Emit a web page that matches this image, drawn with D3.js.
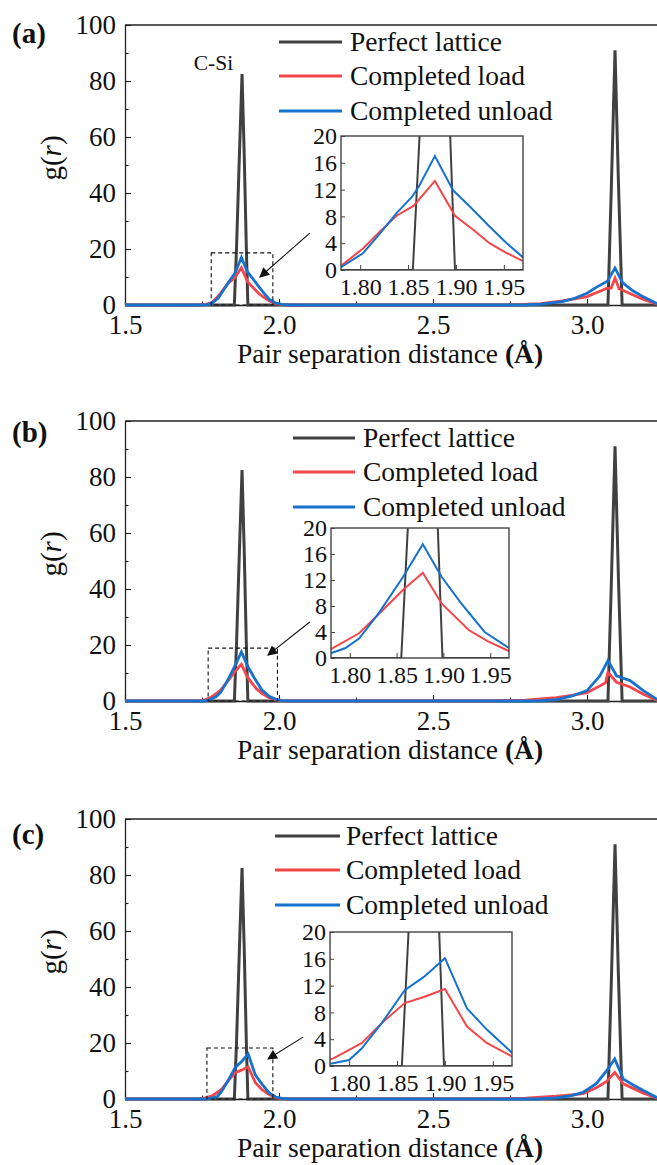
<!DOCTYPE html>
<html>
<head>
<meta charset="utf-8">
<script src="https://cdn.jsdelivr.net/npm/d3@7"></script>
<style>
  html, body { margin: 0; padding: 0; background: #fff; }
  svg { display: block; font-family: "Liberation Serif", "Times New Roman", serif; }
</style>
</head>
<body>
<svg id="chart" width="657" height="1165"></svg>
<script>
// ---- data -------------------------------------------------------------
const panelLabels = ["(a)", "(b)", "(c)"];
const seriesNames = ["Perfect lattice", "Completed load", "Completed unload"];
const seriesColors = ["#404040", "#f2464b", "#1672cc"];

const xTicks = [1.5, 2.0, 2.5, 3.0];
const xMinorTicks = [1.75, 2.25, 2.75, 3.25];
const yTicks = [0, 20, 40, 60, 80, 100];
const yMinorTicks = [10, 30, 50, 70, 90];
const insetXTicks = [1.80, 1.85, 1.90, 1.95];
const insetYTicks = [0, 4, 8, 12, 16, 20];

// perfect lattice g(r) (same reference in every panel)
const latticeCurve = [
  [1.5, 0], [1.850, 0], [1.855, 0], [1.862, 20], [1.871, 52], [1.880, 82.5],
  [1.887, 54], [1.894, 20], [1.899, 0], [1.905, 0],
  [3.060, 0], [3.068, 0], [3.079, 42], [3.091, 91], [3.102, 44], [3.114, 0],
  [3.120, 0], [3.3, 0]
];

// panel (a)
const loadA = [
  [1.5, 0], [1.740, 0], [1.760, 0.2], [1.781, 0.75], [1.803, 3.2], [1.821, 5.8],
  [1.838, 8.1], [1.856, 9.6], [1.878, 13.3], [1.899, 8.1], [1.918, 6.0],
  [1.935, 4.0], [1.952, 2.6], [1.969, 1.4], [1.990, 0.5], [2.010, 0.1], [2.030, 0],
  [2.750, 0], [2.850, 0.5], [2.920, 1.5], [2.960, 2.2], [3.000, 3.0], [3.030, 4.4],
  [3.064, 5.9], [3.078, 6.0], [3.091, 9.6], [3.104, 5.8], [3.118, 5.2],
  [3.150, 3.6], [3.183, 2.0], [3.226, 0.4], [3.260, 0], [3.3, 0]
];
const unloadA = [
  [1.5, 0], [1.750, 0], [1.765, 0.1], [1.781, 0.5], [1.803, 2.5], [1.821, 5.5],
  [1.838, 8.5], [1.854, 10.9], [1.861, 12.4], [1.878, 17.0], [1.897, 11.9],
  [1.915, 9.4], [1.935, 6.5], [1.953, 4.0], [1.969, 2.0], [1.990, 0.7],
  [2.010, 0.2], [2.035, 0],
  [2.800, 0], [2.850, 0.3], [2.920, 1.2], [2.960, 2.4], [3.000, 4.2], [3.030, 6.3],
  [3.066, 8.5], [3.091, 13.2], [3.116, 7.9], [3.150, 5.0], [3.183, 2.9],
  [3.226, 0.6], [3.260, 0], [3.3, 0]
];

// panel (b)
const loadB = [
  [1.5, 0], [1.740, 0], [1.760, 0.4], [1.779, 1.3], [1.810, 3.8], [1.834, 7.2],
  [1.857, 10.5], [1.878, 13.1], [1.898, 8.4], [1.927, 4.3], [1.947, 2.6],
  [1.968, 1.2], [1.990, 0.4], [2.010, 0.05], [2.030, 0],
  [2.680, 0], [2.800, 0.3], [2.900, 1.2], [2.950, 2.0], [3.000, 3.0], [3.042, 5.4],
  [3.060, 6.5], [3.068, 10.2], [3.096, 6.7], [3.140, 5.0], [3.183, 2.4],
  [3.226, 0.3], [3.260, 0], [3.3, 0]
];
const unloadB = [
  [1.5, 0], [1.755, 0], [1.770, 0.2], [1.779, 0.7], [1.795, 1.5], [1.810, 3.0],
  [1.831, 6.9], [1.857, 12.5], [1.878, 17.5], [1.898, 12.5], [1.919, 8.4],
  [1.944, 4.0], [1.968, 1.7], [1.990, 0.6], [2.010, 0.15], [2.035, 0],
  [2.840, 0], [2.900, 0.5], [2.950, 1.7], [3.000, 3.7], [3.042, 9.0],
  [3.068, 14.4], [3.096, 9.0], [3.140, 7.3], [3.183, 3.7], [3.226, 0.7],
  [3.260, 0], [3.3, 0]
];

// panel (c)
const loadC = [
  [1.5, 0], [1.740, 0], [1.760, 0.4], [1.783, 1.1], [1.813, 3.4], [1.834, 6.4],
  [1.858, 9.4], [1.878, 10.3], [1.900, 11.5], [1.923, 5.9], [1.944, 3.4],
  [1.969, 1.5], [1.990, 0.5], [2.010, 0.1], [2.030, 0],
  [2.680, 0], [2.800, 0.3], [2.900, 1.0], [2.950, 1.5], [2.988, 1.9], [3.030, 4.0],
  [3.064, 6.3], [3.090, 9.5], [3.118, 5.4], [3.150, 3.8], [3.183, 2.1],
  [3.226, 0.4], [3.260, 0], [3.3, 0]
];
const unloadC = [
  [1.5, 0], [1.755, 0], [1.770, 0.1], [1.783, 0.4], [1.800, 0.9], [1.813, 2.6],
  [1.834, 6.4], [1.858, 11.3], [1.878, 13.3], [1.900, 16.1], [1.923, 8.6],
  [1.944, 5.4], [1.969, 2.1], [1.990, 0.7], [2.010, 0.2], [2.035, 0],
  [2.840, 0], [2.900, 0.4], [2.950, 1.2], [2.988, 2.4], [3.030, 5.5],
  [3.064, 10.1], [3.090, 14.3], [3.118, 7.1], [3.150, 5.0], [3.183, 3.0],
  [3.226, 0.6], [3.260, 0], [3.3, 0]
];

const loadSeries = [loadA, loadB, loadC];
const unloadSeries = [unloadA, unloadB, unloadC];

// dashed zoom box [x0, x1, yTop] and arrow [[x, y] tail, [x, y] head], data units
const zoomBoxes = [[1.780, 1.980, 18.6], [1.770, 1.995, 18.9], [1.766, 1.980, 18.2]];
const arrows = [
  [[2.100, 25.7], [1.938, 10.0]],
  [[2.100, 28.2], [1.964, 16.4]],
  [[2.078, 22.1], [1.964, 14.3]]
];

// ---- layout -----------------------------------------------------------
const panelTops = [25, 421, 819];
const plotH = 280;
const plotLeft = 125;
const pxPerUnit = 308;               // 1 Å -> 308 px
const insetBoxes = [                 // [left, top, width, height]
  [341, 136, 182, 134],
  [331, 528, 178, 130],
  [330, 932, 182, 134]
];
const legendX = [[279, 342, 350], [293, 355, 363], [275, 340, 346]];
const legendRows = [17, 51, 86];
const labelBaselines = [43, 442, 844];
const serif = "Liberation Serif, Times New Roman, serif";

const svg = d3.select("#chart");
const x = d3.scaleLinear().domain([1.5, 3.3]).range([plotLeft, plotLeft + 1.8 * pxPerUnit]);

const defs = svg.append("defs");
defs.append("marker")
  .attr("id", "arrowHead")
  .attr("viewBox", "0 0 10 10")
  .attr("refX", 9).attr("refY", 5)
  .attr("markerWidth", 13).attr("markerHeight", 10)
  .attr("markerUnits", "userSpaceOnUse")
  .attr("orient", "auto")
  .append("path").attr("d", "M0,0 L10,5 L0,10 Z").attr("fill", "#111");

const seriesFor = i => [latticeCurve, loadSeries[i], unloadSeries[i]];

panelLabels.forEach((lab, i) => {
  const top = panelTops[i];
  const y = d3.scaleLinear().domain([0, 100]).range([top + plotH, top]);
  const g = svg.append("g");

  const line = d3.line().x(d => x(d[0])).y(d => y(d[1]));

  // frame: top edge
  g.append("line")
    .attr("x1", plotLeft).attr("x2", 657)
    .attr("y1", top).attr("y2", top)
    .attr("stroke", "#222").attr("stroke-width", 1.3);

  // axes
  g.append("g").attr("transform", `translate(0,${top + plotH})`)
    .call(d3.axisBottom(x).tickValues(xTicks).tickFormat(d3.format(".1f"))
      .tickSizeInner(-6).tickSizeOuter(0).tickPadding(10));
  g.append("g").attr("transform", `translate(0,${top + plotH})`)
    .call(d3.axisBottom(x).tickValues(xMinorTicks).tickFormat("")
      .tickSizeInner(-3.5).tickSizeOuter(0))
    .select(".domain").remove();
  g.append("g").attr("transform", `translate(${plotLeft},0)`)
    .call(d3.axisLeft(y).tickValues(yTicks).tickSizeInner(-6).tickSizeOuter(0).tickPadding(9));
  g.append("g").attr("transform", `translate(${plotLeft},0)`)
    .call(d3.axisLeft(y).tickValues(yMinorTicks).tickFormat("")
      .tickSizeInner(-3.5).tickSizeOuter(0))
    .select(".domain").remove();

  g.selectAll(".domain").attr("stroke", "#222").attr("stroke-width", 1.3);
  g.selectAll(".tick line").attr("stroke", "#222").attr("stroke-width", 1.1);
  g.selectAll(".tick text")
    .attr("font-family", serif)
    .attr("font-size", 27).attr("fill", "#111");

  // axis titles
  g.append("text")
    .attr("x", 390).attr("y", top + plotH + 58)
    .attr("text-anchor", "middle").attr("font-size", 27.5).attr("fill", "#111")
    .html('Pair separation distance <tspan font-weight="bold">(Å)</tspan>');
  g.append("text")
    .attr("transform", `translate(51,${top + 133}) rotate(-90)`)
    .attr("text-anchor", "middle").attr("dominant-baseline", "central")
    .attr("font-size", 29).attr("fill", "#111")
    .html('g(<tspan font-style="italic">r</tspan>)');

  // panel label
  g.append("text")
    .attr("x", 12).attr("y", labelBaselines[i])
    .attr("font-size", 29).attr("font-weight", "bold").attr("fill", "#111")
    .text(lab);

  // curves
  seriesFor(i).forEach((data, s) => {
    g.append("path").datum(data)
      .attr("d", line)
      .attr("fill", "none")
      .attr("stroke", seriesColors[s])
      .attr("stroke-width", s === 0 ? 3 : 2.8)
      .attr("stroke-linejoin", "miter");
  });

  if (i === 0) {
    g.append("text")
      .attr("x", x(1.787)).attr("y", y(84))
      .attr("text-anchor", "middle").attr("font-size", 21.5).attr("fill", "#111")
      .text("C-Si");
  }

  // dashed zoom box
  const zb = zoomBoxes[i];
  g.append("rect")
    .attr("x", x(zb[0])).attr("y", y(zb[2]))
    .attr("width", x(zb[1]) - x(zb[0])).attr("height", y(0) - y(zb[2]))
    .attr("fill", "none").attr("stroke", "#111")
    .attr("stroke-width", 1.1).attr("stroke-dasharray", "4,3");

  // arrow to inset
  const ar = arrows[i];
  g.append("line")
    .attr("x1", x(ar[0][0])).attr("y1", y(ar[0][1]))
    .attr("x2", x(ar[1][0])).attr("y2", y(ar[1][1]))
    .attr("stroke", "#111").attr("stroke-width", 1.1)
    .attr("marker-end", "url(#arrowHead)");

  // legend
  const lx = legendX[i];
  seriesNames.forEach((name, s) => {
    const ly = top + legendRows[s];
    g.append("line")
      .attr("x1", lx[0]).attr("x2", lx[1]).attr("y1", ly).attr("y2", ly)
      .attr("stroke", seriesColors[s]).attr("stroke-width", 3);
    g.append("text")
      .attr("x", lx[2]).attr("y", ly).attr("dy", "0.34em")
      .attr("font-size", 27.5).attr("fill", "#111")
      .text(name);
  });

  // inset
  const [il, it, iw, ih] = insetBoxes[i];
  const ix = d3.scaleLinear().domain([1.78, 1.97]).range([il, il + iw]);
  const iy = d3.scaleLinear().domain([0, 20]).range([it + ih, it]);
  const ig = svg.append("g");
  const clipId = "insetClip" + i;
  defs.append("clipPath").attr("id", clipId)
    .append("rect").attr("x", il).attr("y", it).attr("width", iw).attr("height", ih);

  ig.append("rect").attr("x", il).attr("y", it).attr("width", iw).attr("height", ih)
    .attr("fill", "#fff");

  const iline = d3.line().x(d => ix(d[0])).y(d => iy(d[1]));
  const curves = ig.append("g").attr("clip-path", `url(#${clipId})`);
  seriesFor(i).forEach((data, s) => {
    curves.append("path").datum(data)
      .attr("d", iline)
      .attr("fill", "none")
      .attr("stroke", seriesColors[s])
      .attr("stroke-width", 2);
  });

  ig.append("g").attr("transform", `translate(0,${it + ih})`)
    .call(d3.axisBottom(ix).tickValues(insetXTicks).tickFormat(d3.format(".2f"))
      .tickSizeInner(-5).tickSizeOuter(0).tickPadding(8));
  ig.append("g").attr("transform", `translate(${il},0)`)
    .call(d3.axisLeft(iy).tickValues(insetYTicks).tickFormat(d3.format("d"))
      .tickSizeInner(-4).tickSizeOuter(0).tickPadding(4));
  ig.selectAll(".domain").remove();
  ig.selectAll(".tick line").attr("stroke", "#444").attr("stroke-width", 1);
  ig.selectAll(".tick text")
    .attr("font-family", serif)
    .attr("font-size", 24).attr("fill", "#111");
  ig.append("rect").attr("x", il).attr("y", it).attr("width", iw).attr("height", ih)
    .attr("fill", "none").attr("stroke", "#444").attr("stroke-width", 1.4);
});
</script>
</body>
</html>
